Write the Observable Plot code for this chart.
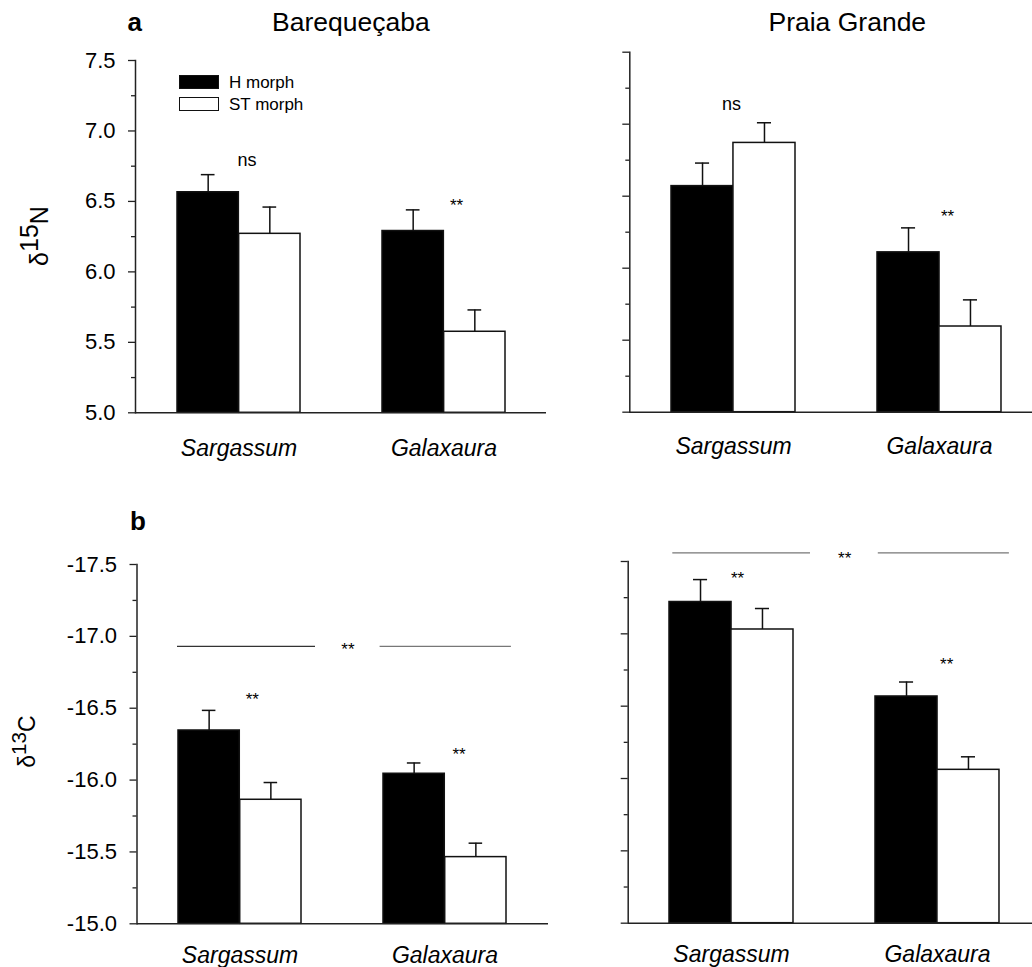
<!DOCTYPE html>
<html>
<head>
<meta charset="utf-8">
<script src="https://cdn.jsdelivr.net/npm/d3@7"></script>
<script src="https://cdn.jsdelivr.net/npm/@observablehq/plot@0.6"></script>
<style>
html, body { margin: 0; padding: 0; background: #fff; }
#page { position: relative; width: 1032px; height: 967px; overflow: hidden;
  font-family: "Liberation Sans", Arial, Helvetica, sans-serif; color: #000; }
.txt { position: absolute; left: 0; top: 0; white-space: nowrap; line-height: 1; transform-origin: 0 0; }
.panel { position: absolute; }
.sw { position: absolute; box-sizing: border-box; }
</style>
</head>
<body>
<div id="page"></div>
<script>
// ---------------- data ----------------
const species = ["Sargassum", "Galaxaura"];
const morphs = ["H morph", "ST morph"];
const sites = ["Barequeçaba", "Praia Grande"];

// δ15N means and standard errors (Sargassum, Galaxaura)
const n15BareqH = [6.565, 6.29];
const n15BareqST = [6.27, 5.575];
const n15BareqHse = [0.125, 0.15];
const n15BareqSTse = [0.19, 0.155];
const n15PraiaH = [6.57, 6.11];
const n15PraiaST = [6.87, 5.595];
const n15PraiaHse = [0.16, 0.17];
const n15PraiaSTse = [0.14, 0.185];

// δ13C means and standard errors (Sargassum, Galaxaura)
const c13BareqH = [-16.345, -16.044];
const c13BareqST = [-15.863, -15.464];
const c13BareqHse = [0.14, 0.075];
const c13BareqSTse = [0.12, 0.097];
const c13PraiaH = [-17.22, -16.567];
const c13PraiaST = [-17.03, -16.06];
const c13PraiaHse = [0.155, 0.10];
const c13PraiaSTse = [0.145, 0.09];

// axis ticks
const n15Major = [5.0, 5.5, 6.0, 6.5, 7.0, 7.5];
const n15Minor = [5.25, 5.75, 6.25, 6.75, 7.25];
const c13Major = [-15.0, -15.5, -16.0, -16.5, -17.0, -17.5];
const c13Minor = [-15.25, -15.75, -16.25, -16.75, -17.25];

// significance annotations
const annN15BareqSpecies = ["Sargassum", "Galaxaura"];
const annN15BareqLabel = ["ns", "**"];
const annN15BareqValue = [6.79, 6.47];
const annN15PraiaSpecies = ["Sargassum", "Galaxaura"];
const annN15PraiaLabel = ["ns", "**"];
const annN15PraiaValue = [7.14, 6.36];
const annC13BareqSpecies = ["Sargassum", "Galaxaura", "Galaxaura"];
const annC13BareqLabel = ["**", "**", "**"];
const annC13BareqValue = [-16.56, -16.18, -16.91];
const annC13PraiaSpecies = ["Sargassum", "Galaxaura", "Galaxaura"];
const annC13PraiaLabel = ["**", "**", "**"];
const annC13PraiaValue = [-17.38, -16.79, -17.52];
// between-species comparison bars (δ13C)
const sigLineC13Bareq = -16.93;
const sigLineC13Praia = -17.56;

// ---------------- drawing ----------------
const FONT = '"Liberation Sans", Arial, Helvetica, sans-serif';
const page = document.getElementById("page");
const INK = "#111";

function panel(cfg) {
  const range = cfg.width - cfg.ml - cfg.mr;
  const bw = range * 0.3;          // band width (paddingInner .4, paddingOuter .2)
  const capW = 14;
  const hRows = species.map((s, i) => ({species: s, mean: cfg.H[i], err: cfg.H[i] + cfg.sign * cfg.Hse[i]}));
  const sRows = species.map((s, i) => ({species: s, mean: cfg.ST[i], err: cfg.ST[i] + cfg.sign * cfg.STse[i]}));
  const ann = cfg.annSpecies.map((s, i) => ({species: s, label: cfg.annLabel[i], value: cfg.annValue[i]}));
  const marks = [
    Plot.barY(hRows, {x: "species", y1: cfg.base, y2: "mean", fill: "#000", stroke: INK, strokeWidth: 1.5, insetRight: bw / 2}),
    Plot.barY(sRows, {x: "species", y1: cfg.base, y2: "mean", fill: "#fff", stroke: INK, strokeWidth: 1.5, insetLeft: bw / 2}),
    Plot.ruleX(hRows, {x: "species", y1: "mean", y2: "err", dx: -bw / 4, stroke: INK, strokeWidth: 1.5}),
    Plot.ruleX(sRows, {x: "species", y1: "mean", y2: "err", dx: bw / 4, stroke: INK, strokeWidth: 1.5}),
    Plot.tickY(hRows, {x: "species", y: "err", insetLeft: bw / 4 - capW / 2, insetRight: 3 * bw / 4 - capW / 2, stroke: INK, strokeWidth: 1.5}),
    Plot.tickY(sRows, {x: "species", y: "err", insetLeft: 3 * bw / 4 - capW / 2, insetRight: bw / 4 - capW / 2, stroke: INK, strokeWidth: 1.5}),
    Plot.axisY(cfg.minor, {tickSize: 4, tickFormat: () => "", label: null, stroke: "#222", strokeWidth: 1.3}),
    Plot.axisY(cfg.major, {tickSize: 7, tickPadding: 13, label: null, fontSize: 22, stroke: "#222", strokeWidth: 1.3,
      tickFormat: cfg.tickLabels ? (d => d.toFixed(1)) : (() => "")}),
    Plot.frame({anchor: "left", stroke: "#222", strokeWidth: 1.5}),
    Plot.ruleY([cfg.base], {stroke: "#222", strokeWidth: 1.5}),
    Plot.axisX({tickSize: 0, tickPadding: cfg.labelPad, fontSize: 23, fontStyle: "italic", label: null})
  ];
  ann.forEach((a, i) => {
    marks.push(Plot.text([a], {x: "species", y: "value", text: "label", dx: cfg.annDx[i],
      fontSize: a.label === "ns" ? 18 : 17, fill: "#000"}));
  });
  if (cfg.sigLine !== undefined) {
    species.forEach((s, i) => {
      marks.push(Plot.tickY([{species: s, value: cfg.sigLine}], {x: "species", y: "value",
        insetLeft: cfg.lineInsets[i][0], insetRight: cfg.lineInsets[i][1], stroke: cfg.lineColors[i], strokeWidth: 1.2}));
    });
  }
  const svg = Plot.plot({
    width: cfg.width, height: cfg.height,
    marginLeft: cfg.ml, marginRight: cfg.mr, marginTop: cfg.mt, marginBottom: cfg.mb,
    x: {type: "band", domain: species, paddingInner: 0.4, paddingOuter: 0.2, label: null},
    y: {domain: [cfg.base, cfg.top], label: null},
    style: {fontFamily: FONT, color: "#000", background: "transparent", overflow: "visible"},
    marks
  });
  svg.classList.add("panel");
  svg.style.left = cfg.left + "px";
  svg.style.top = cfg.topPx + "px";
  page.appendChild(svg);
}

panel({H: n15BareqH, ST: n15BareqST, Hse: n15BareqHse, STse: n15BareqSTse, base: 5, top: 7.5, sign: 1,
  major: n15Major, minor: n15Minor, tickLabels: true,
  left: 0, topPx: 0, width: 560, height: 480, ml: 135, mr: 14, mt: 60, mb: 67.7, labelPad: 27,
  annSpecies: annN15BareqSpecies, annLabel: annN15BareqLabel, annValue: annN15BareqValue, annDx: [8, 12.5]});

panel({H: n15PraiaH, ST: n15PraiaST, Hse: n15PraiaHse, STse: n15PraiaSTse, base: 5, top: 7.5, sign: 1,
  major: n15Major, minor: n15Minor, tickLabels: false,
  left: 560, topPx: 0, width: 492.3, height: 480, ml: 69.3, mr: 10, mt: 51.7, mb: 68.3, labelPad: 25,
  annSpecies: annN15PraiaSpecies, annLabel: annN15PraiaLabel, annValue: annN15PraiaValue, annDx: [-2, 8]});

panel({H: c13BareqH, ST: c13BareqST, Hse: c13BareqHse, STse: c13BareqSTse, base: -15, top: -17.5, sign: -1,
  major: c13Major, minor: c13Minor, tickLabels: true,
  left: 0, topPx: 480, width: 560, height: 487, ml: 136.5, mr: 12, mt: 84, mb: 43.7, labelPad: 22.7,
  annSpecies: annC13BareqSpecies, annLabel: annC13BareqLabel, annValue: annC13BareqValue, annDx: [12.3, 14, -97.1],
  sigLine: sigLineC13Bareq, lineInsets: [[-1, -14], [-3.4, -4.9]], lineColors: ["#333", "#777"]});

panel({H: c13PraiaH, ST: c13PraiaST, Hse: c13PraiaHse, STse: c13PraiaSTse, base: -15, top: -17.5, sign: -1,
  major: c13Major, minor: c13Minor, tickLabels: false,
  left: 560, topPx: 480, width: 490.7, height: 487, ml: 67.7, mr: 10, mt: 81, mb: 44.3, labelPad: 22.3,
  annSpecies: annC13PraiaSpecies, annLabel: annC13PraiaLabel, annValue: annC13PraiaValue, annDx: [6, 9.2, -92.8],
  sigLine: sigLineC13Praia, lineInsets: [[3.3, -17], [2.8, -9.9]], lineColors: ["#777", "#777"]});

// ---------------- html text: titles, panel letters, legend, y labels ----------------
const BASE = 0.8465; // baseline offset (em) for line-height 1 in Liberation Sans
function htmlText(html, x, baseline, size, {anchor = "middle", weight = "normal"} = {}) {
  const d = document.createElement("div");
  d.className = "txt";
  d.innerHTML = html;
  d.style.fontSize = size + "px";
  d.style.fontWeight = weight;
  const tx = anchor === "middle" ? "-50%" : anchor === "end" ? "-100%" : "0";
  d.style.transform = `translate(${x}px, ${baseline - BASE * size}px) translateX(${tx})`;
  page.appendChild(d);
  return d;
}
function htmlTextVertical(html, baselineX, centerY, size) {
  const d = document.createElement("div");
  d.className = "txt";
  d.innerHTML = html;
  d.style.fontSize = size + "px";
  d.style.transform = `translate(${baselineX}px, ${centerY}px) rotate(-90deg) translate(-50%, -${BASE}em)`;
  page.appendChild(d);
}

htmlText("a", 134.7, 31.5, 26, {weight: "bold"});
htmlText("b", 138, 530, 26, {weight: "bold"});
htmlText(sites[0], 350.8, 31, 26.5);
htmlText(sites[1], 847.3, 31, 26.5);

// legend
function swatch(x, y, fill) {
  const s = document.createElement("div");
  s.className = "sw";
  s.style.left = x + "px"; s.style.top = y + "px";
  s.style.width = "40px"; s.style.height = "14px";
  s.style.background = fill;
  s.style.border = "1.5px solid #111";
  page.appendChild(s);
}
swatch(179, 75, "#000");
swatch(179, 97, "#fff");
htmlText(morphs[0], 229, 88.3, 17, {anchor: "start"});
htmlText(morphs[1], 229, 110.5, 17, {anchor: "start"});

// y labels
const sup = (t, s) => `<span style="position:relative; top:-0.42em; font-size:${s}em">${t}</span>`;
htmlTextVertical(`δ${sup("15", 1)}N`, 48, 236, 25);
htmlTextVertical(`δ${sup("13", 0.9)}C`, 35, 741.5, 23);
</script>
</body>
</html>
